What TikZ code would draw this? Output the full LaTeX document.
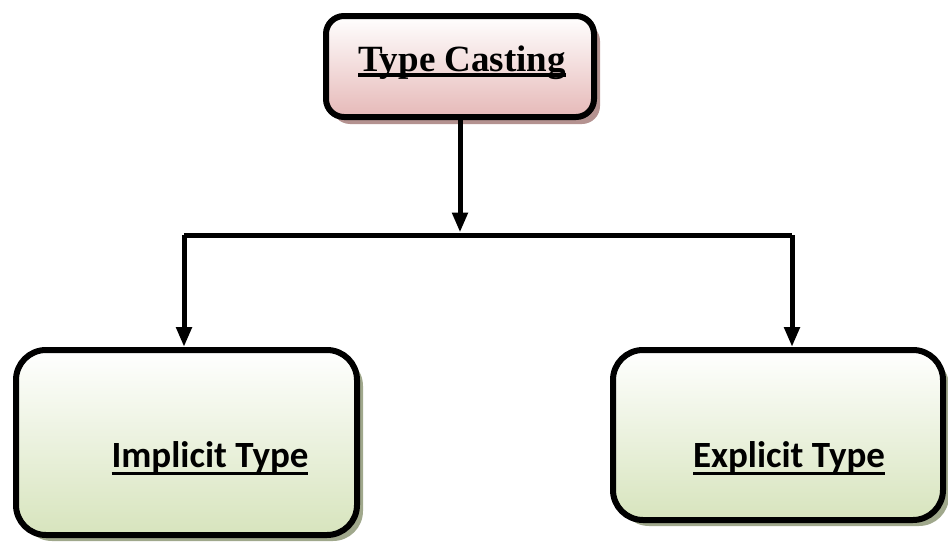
\documentclass[tikz,border=0pt]{standalone}
\usepackage{fontspec}
\usepackage{tikz}
\usetikzlibrary{arrows.meta,shadows}

\newfontfamily\headfont{Liberation Serif}
\newfontfamily\leaffont{Carlito}
\definecolor{rootpink}{HTML}{E6B9B8}
\definecolor{rootshade}{HTML}{B49290}
\definecolor{leafgreen}{HTML}{D7E4BD}
\definecolor{leafshade}{HTML}{A0A88C}
% underline with a thick bar
\newcommand{\thickul}[2]{\setbox0\hbox{#2}\rlap{\rule[-#1]{\wd0}{3.5pt}}\box0}

\begin{document}
\begin{tikzpicture}[x=1pt,y=-1pt,line width=6pt,
		>={Triangle[width=15pt,length=20pt]},
		rootbox/.style={draw,rounded corners=18pt,top color=white,bottom color=rootpink,
			drop shadow={shadow xshift=6pt,shadow yshift=-7pt,fill=rootshade,opacity=1}},
		leafbox/.style={draw,rounded corners=30pt,top color=white,bottom color=leafgreen,
			drop shadow={shadow xshift=6pt,shadow yshift=-6pt,fill=leafshade,opacity=1}},
		link/.style={line width=5pt}]
		\useasboundingbox (0,0) rectangle (948,541);

		\node[rootbox,minimum width=268pt,minimum height=101pt] (cast) at (460,66.5) {};
		\node[leafbox,minimum width=341pt,minimum height=185pt] (impl) at (186.5,442.5) {};
		\node[leafbox,minimum width=330pt,minimum height=170pt] (expl) at (778,435) {};

		\node[anchor=base,inner sep=0pt] (casttxt) at (462,71)
			{\headfont\bfseries\fontsize{37}{40}\selectfont\thickul{5.5pt}{Type Casting}};
		\node[anchor=base,inner sep=0pt] (impltxt) at (210,467)
			{\leaffont\bfseries\fontsize{37}{40}\selectfont\thickul{8pt}{Implicit Type}};
		\node[anchor=base,inner sep=0pt] (expltxt) at (789,467)
			{\leaffont\bfseries\fontsize{37}{40}\selectfont\thickul{8pt}{Explicit Type}};

		\coordinate (join) at (460,235);
		\coordinate (ljoin) at (184,235);
		\coordinate (rjoin) at (792,235);

		\draw[link,->,shorten >=2.5pt] (cast.south) -- (join);
		\draw[link] (ljoin) -- (rjoin);
		\draw[link,->] (ljoin) -- (ljoin |- impl.north);
		\draw[link,->] (rjoin) -- (rjoin |- expl.north);
\end{tikzpicture}
\end{document}
